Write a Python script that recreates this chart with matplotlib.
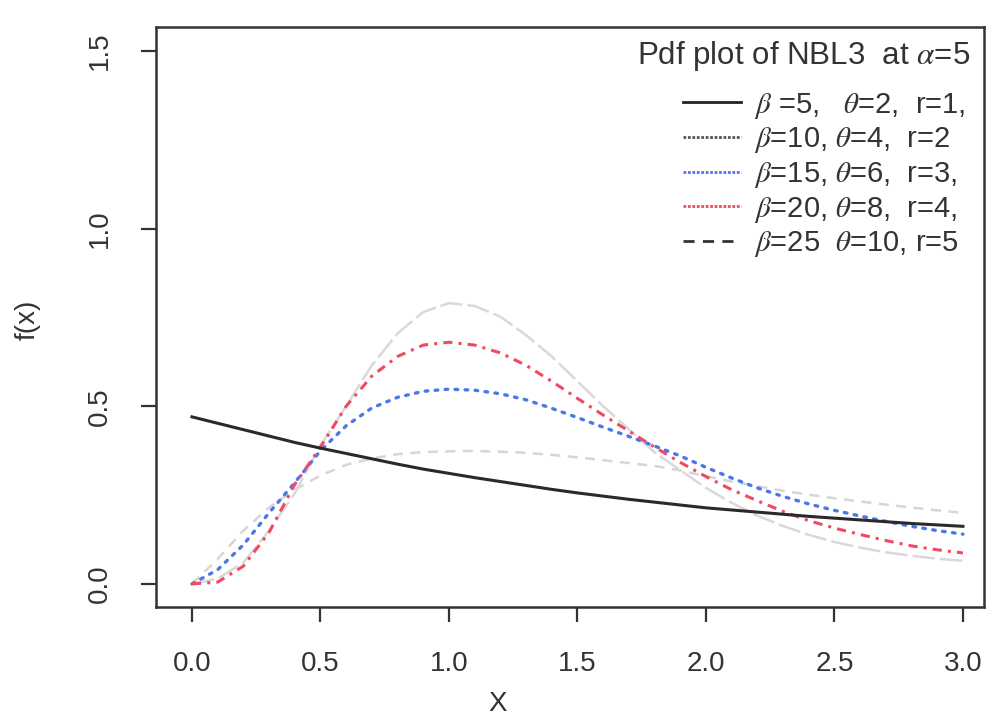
import matplotlib
matplotlib.use("Agg")
import matplotlib.pyplot as plt
from matplotlib.lines import Line2D

# x grid and pdf values for the five parameter sets (alpha = 5)
x = [0.0, 0.1, 0.2, 0.3, 0.4, 0.5, 0.6, 0.7, 0.8, 0.9, 1.0,
     1.1, 1.2, 1.3, 1.4, 1.5, 1.6, 1.7, 1.8, 1.9, 2.0,
     2.1, 2.2, 2.3, 2.4, 2.5, 2.6, 2.7, 2.8, 2.9, 3.0]

pdf_b5 = [0.470, 0.452, 0.434, 0.416, 0.398, 0.382, 0.367, 0.352, 0.337, 0.323, 0.311,
          0.299, 0.288, 0.277, 0.266, 0.256, 0.247, 0.238, 0.230, 0.222, 0.214,
          0.208, 0.202, 0.196, 0.190, 0.185, 0.180, 0.175, 0.170, 0.166, 0.162]
pdf_b10 = [0.0, 0.070, 0.150, 0.215, 0.265, 0.305, 0.335, 0.353, 0.365, 0.371, 0.373,
           0.374, 0.372, 0.369, 0.363, 0.356, 0.348, 0.340, 0.332, 0.319, 0.303,
           0.288, 0.275, 0.262, 0.251, 0.241, 0.232, 0.223, 0.215, 0.207, 0.200]
pdf_b15 = [0.0, 0.040, 0.110, 0.200, 0.285, 0.375, 0.445, 0.495, 0.525, 0.542, 0.548,
           0.545, 0.535, 0.518, 0.494, 0.468, 0.441, 0.415, 0.388, 0.360, 0.328,
           0.298, 0.270, 0.246, 0.225, 0.207, 0.191, 0.176, 0.162, 0.150, 0.140]
pdf_b20 = [0.0, 0.005, 0.050, 0.145, 0.280, 0.385, 0.500, 0.585, 0.640, 0.672, 0.680,
           0.672, 0.650, 0.615, 0.570, 0.522, 0.475, 0.430, 0.385, 0.342, 0.302,
           0.265, 0.234, 0.204, 0.178, 0.157, 0.139, 0.122, 0.107, 0.096, 0.087]
pdf_b25 = [0.0, 0.015, 0.060, 0.150, 0.255, 0.390, 0.500, 0.615, 0.705, 0.765, 0.790,
           0.782, 0.752, 0.700, 0.640, 0.570, 0.500, 0.435, 0.370, 0.320, 0.270,
           0.228, 0.192, 0.163, 0.138, 0.118, 0.102, 0.089, 0.079, 0.071, 0.065]

labels = [r'$\beta$ =5,   $\theta$=2,  r=1,',
          r'$\beta$=10, $\theta$=4,  r=2',
          r'$\beta$=15, $\theta$=6,  r=3,',
          r'$\beta$=20, $\theta$=8,  r=4,',
          r'$\beta$=25  $\theta$=10, r=5']

xticks = [0.0, 0.5, 1.0, 1.5, 2.0, 2.5, 3.0]
yticks = [0.0, 0.5, 1.0, 1.5]

plt.rcParams['font.family'] = ['Liberation Sans', 'DejaVu Sans']
plt.rcParams['mathtext.fontset'] = 'stix'
txt = '#333333'

fig = plt.figure(figsize=(9.89, 7.2), dpi=100)
ax = fig.add_axes([156 / 989, 1 - 607 / 720, 827.5 / 989, 580 / 720])

ax.plot(x, pdf_b10, color='#d6d6d6', lw=1.8, dashes=(4, 3))
ax.plot(x, pdf_b25, color='#d9d9d9', lw=1.8, dashes=(9, 2))
ax.plot(x, pdf_b15, color='#4a78e8', lw=2.4, dashes=(0.8, 2.2), dash_capstyle='round')
ax.plot(x, pdf_b20, color='#f04a62', lw=2.2, dashes=(3, 2, 1, 2))
ax.plot(x, pdf_b5, color='#2a2a2a', lw=2.2)

ax.set_xlim(-0.14, 3.08)
ax.set_ylim(-0.065, 1.567)
ax.set_xticks(xticks)
ax.set_xticklabels(['%.1f' % t for t in xticks])
ax.set_yticks(yticks)
ax.set_yticklabels(['%.1f' % t for t in yticks], rotation=90, va='center')
ax.tick_params(direction='out', length=11, width=1.6, color='#333333',
               labelsize=20, labelcolor=txt)
ax.tick_params(axis='x', pad=21)
ax.tick_params(axis='y', pad=20)
for s in ax.spines.values():
    s.set_linewidth(1.8)
    s.set_color('#333333')

ax.set_xlabel('X', fontsize=20, color=txt)
ax.xaxis.set_label_coords(0.413, -0.145)
ax.set_ylabel('f(x)', fontsize=20, color=txt)
ax.yaxis.set_label_coords(-0.14, 0.495)

# legend heading, then the entries below it
fig.text(970 / 989, 1 - 56 / 720, r'Pdf plot of NBL3  at $\alpha$=5', fontsize=22.5,
         color=txt, ha='right', va='center')

handles = [Line2D([], [], color='#222222', lw=2),
           Line2D([], [], color='#555555', lw=2, ls=(0, (1, 0.6))),
           Line2D([], [], color='#4a78e8', lw=2, ls=(0, (1, 0.6))),
           Line2D([], [], color='#f04a62', lw=2, ls=(0, (1, 0.6))),
           Line2D([], [], color='#333333', lw=2, ls=(0, (4, 3)))]
leg = ax.legend(handles=handles, labels=labels,
                loc='upper right', bbox_to_anchor=(980 / 989, 1 - 76 / 720),
                bbox_transform=fig.transFigure, frameon=False, fontsize=21,
                borderpad=0, handlelength=2.0, handletextpad=0.45, labelspacing=0.16)
for t in leg.get_texts():
    t.set_color(txt)

fig.savefig('out.png', dpi=100, facecolor='white')
